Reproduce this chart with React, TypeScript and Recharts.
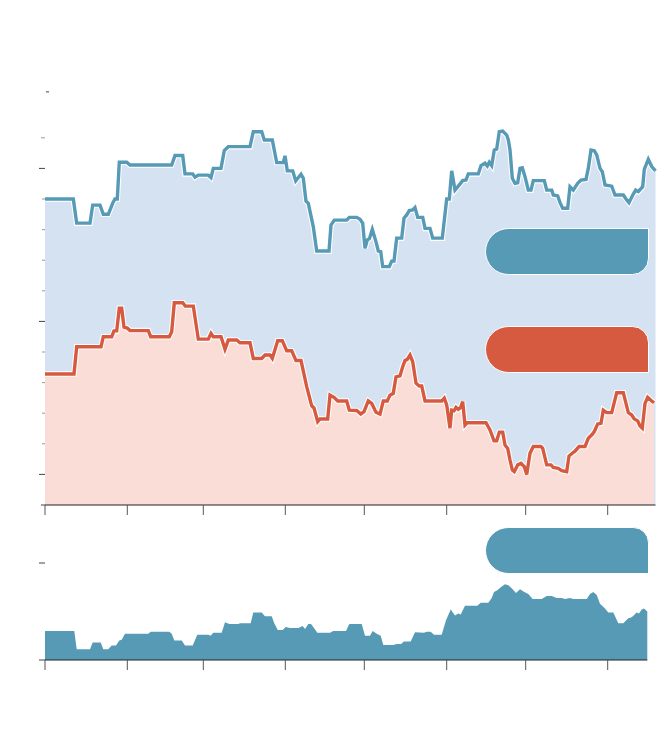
import { ComposedChart, AreaChart, Area, Line, XAxis, YAxis } from 'recharts';

// time position of each sample (same unit on both panels), and values in axis-tick units
const BLUE_T = [0, 28.3, 31.7, 45, 47.7, 55, 58.3, 63.3, 67.7, 70, 72.3, 74.3, 81.7, 85, 126.7, 130, 137.7, 140, 147.7, 150,
  153.3, 163.3, 166, 168.3, 176, 179.3, 183.3, 205, 208.3, 216.7, 219.3, 227.3, 231.7, 238.3, 240, 242.3, 247.7, 250.7, 256, 258.3,
  261, 263.3, 268.3, 271.7, 284, 286, 289.3, 301.7, 304.3, 311.7, 315, 317.7, 320, 322.3, 324.5, 327.3, 331, 333.3, 335.7, 337.7,
  344.3, 346.7, 349, 351.7, 356.7, 359, 361.7, 364.3, 367.7, 370, 372.7, 377.7, 380, 385, 387.7, 397.3, 401.7, 404.3, 406.7, 410,
  414.3, 417.7, 421, 423.3, 433.3, 436, 440, 442.3, 444.3, 446.7, 449.3, 451.7, 454.3, 457.7, 461.7, 463.3, 465, 467.3, 470, 472.7,
  475, 477.3, 480, 483.3, 486, 488.3, 499.3, 501.7, 506.7, 508.3, 512.7, 515, 517.7, 522.7, 525, 528.3, 532.7, 536, 541, 543.3,
  546, 549.3, 551.7, 555, 557.3, 560, 566.7, 570, 578.3, 581.7, 584, 588.3, 590.7, 593.3, 597.7, 599.3, 603.3, 606.7, 610.5];
const BLUE_V = [10, 10, 9.21, 9.21, 9.8, 9.8, 9.5, 9.5, 9.86, 10, 10, 11.2, 11.2, 11.11, 11.11, 11.42, 11.42, 10.82, 10.82, 10.71,
  10.78, 10.78, 10.7, 11, 11, 11.58, 11.71, 11.71, 12.2, 12.2, 11.93, 11.93, 11.19, 11.19, 11.41, 10.92, 10.92, 10.59, 10.81, 10.68,
  9.93, 9.86, 9.09, 8.3, 8.3, 9.15, 9.31, 9.31, 9.4, 9.4, 9.34, 9.21, 8.39, 8.66, 8.71, 9.01, 8.6, 8.3, 8.28, 7.79,
  7.79, 7.97, 7.97, 8.72, 8.72, 9.37, 9.48, 9.62, 9.64, 9.72, 9.4, 9.4, 9.04, 9.04, 8.72, 8.72, 10, 10, 10.92, 10.29,
  10.46, 10.6, 10.62, 10.82, 10.82, 11.09, 11.17, 11.08, 11.2, 11.09, 11.6, 11.63, 12.2, 12.22, 12.09, 11.93, 11.6, 10.68, 10.51, 10.53,
  11, 11.02, 10.73, 10.29, 10.29, 10.6, 10.6, 10.29, 10.29, 10.13, 10.1, 9.88, 9.7, 9.7, 10.4, 10.29, 10.51, 10.62, 10.64, 11,
  11.6, 11.58, 11.44, 11, 10.89, 10.46, 10.42, 10.13, 10.13, 9.97, 9.88, 10.16, 10.29, 10.24, 10.4, 10.97, 11.3, 11.06, 10.92];

const RED_T = [0, 29, 31.7, 56, 58.3, 66.7, 69, 71.7, 74.3, 76.7, 79, 82.3, 85, 103.3, 105.7, 124.3, 126.7, 129.3, 137.7, 140.3,
  148.3, 153.3, 163.3, 166, 168.3, 176, 180, 183.3, 191.7, 195, 205, 208.3, 216.7, 220, 225, 227.3, 232.7, 237.3, 241.7, 246.7,
  251, 256, 261.7, 266.7, 269, 272.7, 275, 282.7, 285, 289.3, 292.7, 301.7, 304.3, 311.7, 315.7, 319, 323.3, 326.7, 331, 335,
  338.3, 342.3, 345, 348.3, 351, 355, 357.7, 360, 362.3, 365, 367.7, 371, 374.3, 376.7, 380, 396.7, 399.3, 401.7, 405, 406.7,
  409, 411, 413.3, 415.7, 417.7, 420, 422.3, 441, 445, 449, 451.7, 454.3, 457.7, 460, 462.7, 465, 467.3, 469.3, 472.7, 476,
  479.3, 481.7, 485, 488.3, 496, 497.7, 501.7, 506, 508.3, 513.3, 516.7, 521.7, 524, 527.3, 530, 534, 540, 543.3, 547.3, 549.3,
  552.7, 556, 558.3, 561.7, 566.7, 571.7, 578.3, 583.3, 586.7, 589.3, 592.7, 595, 597.3, 600, 602.7, 606.7, 609];
const RED_V = [4.28, 4.28, 5.17, 5.17, 5.5, 5.5, 5.69, 5.69, 6.43, 6.43, 5.81, 5.78, 5.7, 5.7, 5.5, 5.5, 5.66, 6.61, 6.61, 6.5,
  6.5, 5.42, 5.42, 5.61, 5.5, 5.5, 5.09, 5.39, 5.39, 5.3, 5.3, 4.79, 4.79, 4.9, 4.9, 4.79, 5.37, 5.37, 5.04, 5.04,
  4.72, 4.72, 3.87, 3.24, 3.17, 2.72, 2.81, 2.81, 3.59, 3.51, 3.4, 3.4, 3.1, 3.09, 2.97, 3.05, 3.4, 3.32, 3.03, 2.97,
  3.4, 3.4, 3.59, 3.65, 4.19, 4.22, 4.52, 4.72, 4.76, 4.9, 4.68, 3.98, 3.89, 3.89, 3.4, 3.4, 3.49, 3.27, 2.51, 3.1,
  3.08, 3.19, 3.13, 3.19, 3.38, 2.61, 2.69, 2.69, 2.45, 2.1, 2.1, 2.38, 2.38, 1.96, 1.85, 1.47, 1.14, 1.09, 1.31, 1.36,
  1.25, 1.0, 1.69, 1.91, 1.91, 1.85, 1.31, 1.31, 1.23, 1.2, 1.12, 1.09, 1.6, 1.69, 1.76, 1.91, 1.91, 2.18, 2.31, 2.4,
  2.65, 2.67, 3.1, 3.02, 3.02, 3.67, 3.67, 3.02, 2.94, 2.81, 2.75, 2.58, 2.51, 3.32, 3.52, 3.4, 3.34];

const LOW_T = [0, 29.3, 31.7, 45, 47.7, 55.7, 58.3, 63.3, 66.7, 71, 74.3, 76.7, 80, 103.3, 105.7, 124.3, 126.7, 129.3, 136.7, 140,
  147.7, 152.3, 163.3, 165.7, 168.3, 176.7, 180, 184.3, 193.3, 195, 205.7, 208.3, 216.7, 220, 226.7, 229.3, 232.7, 237.7, 240.7, 245,
  253.3, 257.7, 260, 263.3, 266, 269, 272.3, 285, 288.3, 301, 304.3, 316.7, 320, 325, 327.7, 331.7, 335.7, 338.3, 348.3, 351.7,
  356, 359, 365.7, 370, 379, 381.7, 385.7, 389, 396.7, 401, 405.7, 410, 413.3, 415.7, 420, 432.3, 435.7, 443.3, 446.7, 449,
  452.3, 455.7, 460, 463.3, 466.7, 471, 475, 479.3, 483.3, 487.7, 496.7, 501.7, 506.7, 511.7, 516.7, 520, 525, 528.3, 536.7, 541.7,
  545, 548.3, 551.7, 555, 560, 563.3, 568.3, 573.3, 578.3, 583.3, 586.7, 591.7, 594, 596.7, 599, 602.3];
const LOW_V = [0.3, 0.3, 0.11, 0.11, 0.18, 0.18, 0.11, 0.11, 0.15, 0.15, 0.2, 0.21, 0.27, 0.27, 0.29, 0.29, 0.27, 0.2, 0.2, 0.15,
  0.15, 0.26, 0.26, 0.25, 0.28, 0.28, 0.39, 0.37, 0.37, 0.38, 0.38, 0.49, 0.49, 0.45, 0.45, 0.38, 0.31, 0.31, 0.34, 0.33,
  0.33, 0.35, 0.32, 0.37, 0.37, 0.33, 0.28, 0.28, 0.3, 0.3, 0.37, 0.37, 0.25, 0.25, 0.3, 0.27, 0.25, 0.155, 0.155, 0.165,
  0.165, 0.19, 0.19, 0.285, 0.28, 0.29, 0.29, 0.26, 0.26, 0.41, 0.52, 0.46, 0.48, 0.47, 0.56, 0.56, 0.59, 0.59, 0.64, 0.7,
  0.72, 0.75, 0.78, 0.77, 0.74, 0.69, 0.73, 0.7, 0.68, 0.63, 0.63, 0.66, 0.66, 0.64, 0.64, 0.63, 0.64, 0.63, 0.63, 0.63,
  0.68, 0.7, 0.67, 0.58, 0.53, 0.49, 0.49, 0.38, 0.38, 0.43, 0.44, 0.49, 0.48, 0.52, 0.53, 0.5];

const X_TICKS = [0, 82.3, 158.3, 240.3, 319.3, 401.7, 480.7, 562.7];
const TOP_Y_TICKS = [0, 1, 2, 3, 4, 5, 6, 7, 8, 9, 10, 11, 12, 13.5];
const LOW_Y_TICKS = [0, 1];

const TOP_X_MAX = 610.5;
const LOW_X_MAX = 602.3;

const BLUE = '#579ab5';
const RED = '#d65a3f';
const BLUE_FILL = '#d5e2f2';
const RED_FILL = '#f9ddd6';

const zip = (t: number[], v: number[]) => t.map((x, i) => ({ t: x, v: v[i] }));
const blueData = zip(BLUE_T, BLUE_V);
const redData = zip(RED_T, RED_V);
const lowData = zip(LOW_T, LOW_V);

function XTick({ x, y }: any) {
  return <line x1={x} x2={x} y1={y} y2={y + 10} stroke="#555" />;
}

function TopYTick({ x, y, payload }: any) {
  const v = payload.value;
  if (v === 13.5) return <line x1={x + 1} x2={x + 4} y1={y} y2={y} stroke="#444" />;
  const major = v % 5 === 1;
  const len = major ? 6 : v === 0 || v === 12 ? 4 : 3;
  const color = major || v === 0 ? '#444' : '#999';
  return <line x1={x - len} x2={x} y1={y} y2={y} stroke={color} />;
}

function LowYTick({ x, y }: any) {
  return <line x1={x - 6} x2={x} y1={y} y2={y} stroke="#444" />;
}

const pill = (top: number, left: number, color: string, radius: string) => (
  <div
    style={{
      position: 'absolute', top, left, width: 164, height: 47, boxSizing: 'border-box',
      background: color, border: '1px solid #fff', borderRadius: radius,
    }}
  />
);

export default function App() {
  return (
    <div style={{ position: 'absolute', left: 0, top: 0, width: 670, height: 756, background: '#fff' }}>
      <div style={{ position: 'absolute', left: 0, top: 0 }}>
        <ComposedChart width={670} height={525} margin={{ top: 91.9, right: 670 - 45 - TOP_X_MAX, bottom: 0, left: 0 }}>
          <XAxis type="number" dataKey="t" domain={[0, TOP_X_MAX]} ticks={X_TICKS} interval={0}
            axisLine={{ stroke: '#222', strokeWidth: 1.2 }} tickLine={false} tickSize={0} tickMargin={0} tick={<XTick />} height={20} />
          <YAxis type="number" dataKey="v" domain={[0, 13.5]} ticks={TOP_Y_TICKS} interval={0}
            axisLine={false} tickLine={false} tickSize={0} tickMargin={0} tick={<TopYTick />} width={45} />
          <Area data={blueData} dataKey="v" type="linear" fill={BLUE_FILL} fillOpacity={1} stroke="none" isAnimationActive={false} />
          <Area data={redData} dataKey="v" type="linear" fill={RED_FILL} fillOpacity={1} stroke="none" isAnimationActive={false} />
          <Line data={blueData} dataKey="v" type="linear" stroke="#fff" strokeWidth={5.5} dot={false} activeDot={false} isAnimationActive={false} />
          <Line data={blueData} dataKey="v" type="linear" stroke={BLUE} strokeWidth={3.4} dot={false} activeDot={false} isAnimationActive={false} />
          <Line data={redData} dataKey="v" type="linear" stroke="#fff" strokeWidth={5.5} dot={false} activeDot={false} isAnimationActive={false} />
          <Line data={redData} dataKey="v" type="linear" stroke={RED} strokeWidth={3.4} dot={false} activeDot={false} isAnimationActive={false} />
        </ComposedChart>
      </div>
      <div style={{ position: 'absolute', left: 0, top: 500 }}>
        <AreaChart width={670} height={180} data={lowData} margin={{ top: 24.2, right: 670 - 45 - LOW_X_MAX, bottom: 0, left: 0 }}>
          <XAxis type="number" dataKey="t" domain={[0, LOW_X_MAX]} ticks={X_TICKS} interval={0}
            axisLine={{ stroke: '#222', strokeWidth: 1.2 }} tickLine={false} tickSize={0} tickMargin={0} tick={<XTick />} height={20} />
          <YAxis type="number" domain={[0, 1.4]} ticks={LOW_Y_TICKS} interval={0}
            axisLine={false} tickLine={false} tickSize={0} tickMargin={0} tick={<LowYTick />} width={45} />
          <Area dataKey="v" type="linear" fill={BLUE} fillOpacity={1} stroke="none" isAnimationActive={false} />
        </AreaChart>
      </div>
      {pill(227.5, 484.5, BLUE, '24px 0 17px 24px')}
      {pill(325.5, 484.5, RED, '24px 17px 0 24px')}
      {pill(526.5, 485, BLUE, '24px 16px 0 24px')}
    </div>
  );
}
